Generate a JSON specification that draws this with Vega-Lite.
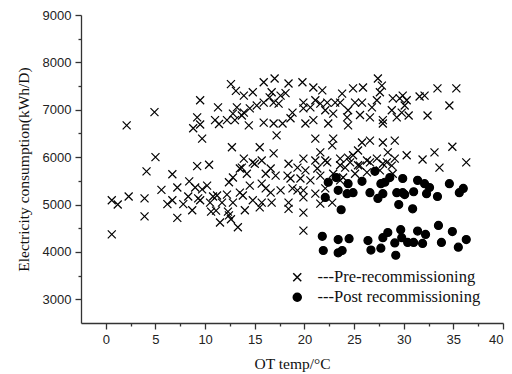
{
  "$schema": "https://vega.github.io/schema/vega-lite/v6.json",
  "autosize": {"type": "none"},
  "width": 422,
  "height": 308,
  "padding": {"left": 81, "top": 15, "right": 9, "bottom": 51},
  "background": "white",
  "config": {"view": {"stroke": null}},
  "data": {"values": [
    {"t":0.6,"e":4370,"s":"---Pre-recommissioning"},{"t":0.6,"e":5090,"s":"---Pre-recommissioning"},{"t":1.2,"e":5000,"s":"---Pre-recommissioning"},{"t":2.1,"e":6670,"s":"---Pre-recommissioning"},{"t":2.3,"e":5170,"s":"---Pre-recommissioning"},{"t":3.9,"e":5130,"s":"---Pre-recommissioning"},{"t":3.9,"e":4750,"s":"---Pre-recommissioning"},{"t":4.1,"e":5700,"s":"---Pre-recommissioning"},{"t":4.9,"e":6950,"s":"---Pre-recommissioning"},{"t":5.0,"e":6000,"s":"---Pre-recommissioning"},{"t":5.6,"e":5310,"s":"---Pre-recommissioning"},{"t":6.2,"e":5010,"s":"---Pre-recommissioning"},{"t":6.7,"e":5090,"s":"---Pre-recommissioning"},{"t":6.7,"e":5640,"s":"---Pre-recommissioning"},{"t":7.2,"e":4720,"s":"---Pre-recommissioning"},{"t":7.2,"e":5360,"s":"---Pre-recommissioning"},{"t":7.8,"e":5010,"s":"---Pre-recommissioning"},{"t":8.3,"e":5170,"s":"---Pre-recommissioning"},{"t":8.7,"e":4880,"s":"---Pre-recommissioning"},{"t":8.4,"e":5490,"s":"---Pre-recommissioning"},{"t":8.8,"e":6610,"s":"---Pre-recommissioning"},{"t":9.0,"e":5360,"s":"---Pre-recommissioning"},{"t":9.3,"e":5130,"s":"---Pre-recommissioning"},{"t":9.2,"e":6840,"s":"---Pre-recommissioning"},{"t":9.5,"e":7200,"s":"---Pre-recommissioning"},{"t":9.5,"e":6690,"s":"---Pre-recommissioning"},{"t":9.7,"e":6390,"s":"---Pre-recommissioning"},{"t":9.2,"e":5810,"s":"---Pre-recommissioning"},{"t":9.5,"e":5090,"s":"---Pre-recommissioning"},{"t":9.7,"e":5320,"s":"---Pre-recommissioning"},{"t":10.4,"e":5840,"s":"---Pre-recommissioning"},{"t":10.2,"e":5400,"s":"---Pre-recommissioning"},{"t":10.5,"e":5040,"s":"---Pre-recommissioning"},{"t":10.6,"e":4850,"s":"---Pre-recommissioning"},{"t":10.8,"e":5170,"s":"---Pre-recommissioning"},{"t":11.2,"e":5190,"s":"---Pre-recommissioning"},{"t":11.1,"e":4870,"s":"---Pre-recommissioning"},{"t":11.5,"e":4620,"s":"---Pre-recommissioning"},{"t":12.2,"e":5210,"s":"---Pre-recommissioning"},{"t":12.3,"e":4850,"s":"---Pre-recommissioning"},{"t":12.4,"e":4770,"s":"---Pre-recommissioning"},{"t":12.6,"e":4690,"s":"---Pre-recommissioning"},{"t":12.8,"e":5040,"s":"---Pre-recommissioning"},{"t":13.3,"e":4520,"s":"---Pre-recommissioning"},{"t":14.0,"e":4880,"s":"---Pre-recommissioning"},{"t":13.5,"e":5250,"s":"---Pre-recommissioning"},{"t":13.8,"e":5190,"s":"---Pre-recommissioning"},{"t":11.7,"e":5040,"s":"---Pre-recommissioning"},
    {"t":11.3,"e":7050,"s":"---Pre-recommissioning"},{"t":11.0,"e":6780,"s":"---Pre-recommissioning"},{"t":11.4,"e":6700,"s":"---Pre-recommissioning"},{"t":12.2,"e":6780,"s":"---Pre-recommissioning"},{"t":12.6,"e":7540,"s":"---Pre-recommissioning"},{"t":13.1,"e":7400,"s":"---Pre-recommissioning"},{"t":13.9,"e":7300,"s":"---Pre-recommissioning"},{"t":13.0,"e":6780,"s":"---Pre-recommissioning"},{"t":13.2,"e":7050,"s":"---Pre-recommissioning"},{"t":12.8,"e":6920,"s":"---Pre-recommissioning"},{"t":13.7,"e":6880,"s":"---Pre-recommissioning"},{"t":13.9,"e":6940,"s":"---Pre-recommissioning"},{"t":14.4,"e":6670,"s":"---Pre-recommissioning"},{"t":14.5,"e":7030,"s":"---Pre-recommissioning"},{"t":14.8,"e":7370,"s":"---Pre-recommissioning"},{"t":15.2,"e":7090,"s":"---Pre-recommissioning"},{"t":15.9,"e":7150,"s":"---Pre-recommissioning"},{"t":15.9,"e":7580,"s":"---Pre-recommissioning"},{"t":15.9,"e":6730,"s":"---Pre-recommissioning"},{"t":16.5,"e":7260,"s":"---Pre-recommissioning"},{"t":16.7,"e":7370,"s":"---Pre-recommissioning"},{"t":16.9,"e":7150,"s":"---Pre-recommissioning"},{"t":17.0,"e":7660,"s":"---Pre-recommissioning"},{"t":17.4,"e":7130,"s":"---Pre-recommissioning"},{"t":17.6,"e":7300,"s":"---Pre-recommissioning"},{"t":18.1,"e":7350,"s":"---Pre-recommissioning"},{"t":18.4,"e":7555,"s":"---Pre-recommissioning"},{"t":16.9,"e":6710,"s":"---Pre-recommissioning"},{"t":17.8,"e":6710,"s":"---Pre-recommissioning"},{"t":18.8,"e":6940,"s":"---Pre-recommissioning"},{"t":18.6,"e":6820,"s":"---Pre-recommissioning"},{"t":17.2,"e":6460,"s":"---Pre-recommissioning"},{"t":12.7,"e":6210,"s":"---Pre-recommissioning"},{"t":15.5,"e":6210,"s":"---Pre-recommissioning"},{"t":16.9,"e":6080,"s":"---Pre-recommissioning"},{"t":13.9,"e":5970,"s":"---Pre-recommissioning"},{"t":14.8,"e":5890,"s":"---Pre-recommissioning"},{"t":15.7,"e":5930,"s":"---Pre-recommissioning"},{"t":18.4,"e":5860,"s":"---Pre-recommissioning"},{"t":13.5,"e":5760,"s":"---Pre-recommissioning"},{"t":19.3,"e":5780,"s":"---Pre-recommissioning"},
    {"t":13.7,"e":5780,"s":"---Pre-recommissioning"},{"t":15.0,"e":5860,"s":"---Pre-recommissioning"},{"t":16.6,"e":5760,"s":"---Pre-recommissioning"},{"t":14.2,"e":5650,"s":"---Pre-recommissioning"},{"t":12.8,"e":5570,"s":"---Pre-recommissioning"},{"t":12.4,"e":5470,"s":"---Pre-recommissioning"},{"t":16.1,"e":5650,"s":"---Pre-recommissioning"},{"t":17.1,"e":5610,"s":"---Pre-recommissioning"},{"t":18.3,"e":5610,"s":"---Pre-recommissioning"},{"t":18.6,"e":5550,"s":"---Pre-recommissioning"},{"t":14.5,"e":5400,"s":"---Pre-recommissioning"},{"t":15.7,"e":5440,"s":"---Pre-recommissioning"},{"t":16.1,"e":5340,"s":"---Pre-recommissioning"},{"t":16.6,"e":5250,"s":"---Pre-recommissioning"},{"t":17.6,"e":5300,"s":"---Pre-recommissioning"},{"t":18.8,"e":5340,"s":"---Pre-recommissioning"},{"t":19.3,"e":5300,"s":"---Pre-recommissioning"},{"t":14.8,"e":5090,"s":"---Pre-recommissioning"},{"t":15.7,"e":5040,"s":"---Pre-recommissioning"},{"t":16.7,"e":5040,"s":"---Pre-recommissioning"},{"t":18.4,"e":5040,"s":"---Pre-recommissioning"},{"t":18.4,"e":4910,"s":"---Pre-recommissioning"},{"t":15.5,"e":4940,"s":"---Pre-recommissioning"},
    {"t":20.1,"e":5720,"s":"---Pre-recommissioning"},{"t":21.3,"e":5760,"s":"---Pre-recommissioning"},{"t":22.3,"e":5890,"s":"---Pre-recommissioning"},{"t":19.6,"e":5550,"s":"---Pre-recommissioning"},{"t":20.6,"e":5510,"s":"---Pre-recommissioning"},{"t":21.6,"e":5610,"s":"---Pre-recommissioning"},{"t":22.1,"e":5340,"s":"---Pre-recommissioning"},{"t":19.9,"e":5300,"s":"---Pre-recommissioning"},{"t":21.1,"e":5230,"s":"---Pre-recommissioning"},{"t":19.9,"e":5150,"s":"---Pre-recommissioning"},{"t":22.8,"e":5040,"s":"---Pre-recommissioning"},{"t":21.6,"e":5020,"s":"---Pre-recommissioning"},{"t":19.9,"e":4830,"s":"---Pre-recommissioning"},{"t":19.9,"e":4450,"s":"---Pre-recommissioning"},{"t":24.6,"e":5890,"s":"---Pre-recommissioning"},{"t":23.6,"e":5830,"s":"---Pre-recommissioning"},{"t":25.4,"e":5830,"s":"---Pre-recommissioning"},{"t":26.6,"e":5890,"s":"---Pre-recommissioning"},{"t":27.9,"e":5860,"s":"---Pre-recommissioning"},{"t":28.8,"e":5820,"s":"---Pre-recommissioning"},{"t":25.1,"e":5650,"s":"---Pre-recommissioning"},{"t":26.3,"e":5680,"s":"---Pre-recommissioning"},{"t":27.6,"e":5720,"s":"---Pre-recommissioning"},{"t":22.9,"e":5650,"s":"---Pre-recommissioning"},{"t":23.6,"e":5510,"s":"---Pre-recommissioning"},{"t":23.9,"e":5570,"s":"---Pre-recommissioning"},{"t":28.9,"e":5650,"s":"---Pre-recommissioning"},
    {"t":21.1,"e":6390,"s":"---Pre-recommissioning"},{"t":22.9,"e":6390,"s":"---Pre-recommissioning"},{"t":22.8,"e":6250,"s":"---Pre-recommissioning"},{"t":26.6,"e":6350,"s":"---Pre-recommissioning"},{"t":27.9,"e":6310,"s":"---Pre-recommissioning"},{"t":25.8,"e":6310,"s":"---Pre-recommissioning"},{"t":29.1,"e":6350,"s":"---Pre-recommissioning"},{"t":25.4,"e":6140,"s":"---Pre-recommissioning"},{"t":24.9,"e":6040,"s":"---Pre-recommissioning"},{"t":28.4,"e":6100,"s":"---Pre-recommissioning"},{"t":21.6,"e":6100,"s":"---Pre-recommissioning"},{"t":19.9,"e":5970,"s":"---Pre-recommissioning"},{"t":21.1,"e":5930,"s":"---Pre-recommissioning"},{"t":22.1,"e":5930,"s":"---Pre-recommissioning"},{"t":23.6,"e":5970,"s":"---Pre-recommissioning"},{"t":24.4,"e":5990,"s":"---Pre-recommissioning"},{"t":26.3,"e":5930,"s":"---Pre-recommissioning"},{"t":27.3,"e":5970,"s":"---Pre-recommissioning"},{"t":28.3,"e":5890,"s":"---Pre-recommissioning"},{"t":29.1,"e":5970,"s":"---Pre-recommissioning"},{"t":24.1,"e":5780,"s":"---Pre-recommissioning"},{"t":25.6,"e":5820,"s":"---Pre-recommissioning"},
    {"t":27.4,"e":7660,"s":"---Pre-recommissioning"},{"t":27.8,"e":7510,"s":"---Pre-recommissioning"},{"t":25.9,"e":7470,"s":"---Pre-recommissioning"},{"t":24.9,"e":7450,"s":"---Pre-recommissioning"},{"t":23.8,"e":7340,"s":"---Pre-recommissioning"},{"t":20.9,"e":7470,"s":"---Pre-recommissioning"},{"t":19.8,"e":7580,"s":"---Pre-recommissioning"},{"t":21.8,"e":7410,"s":"---Pre-recommissioning"},{"t":27.6,"e":7370,"s":"---Pre-recommissioning"},{"t":28.9,"e":7240,"s":"---Pre-recommissioning"},{"t":19.9,"e":7150,"s":"---Pre-recommissioning"},{"t":21.1,"e":7200,"s":"---Pre-recommissioning"},{"t":21.6,"e":7130,"s":"---Pre-recommissioning"},{"t":22.3,"e":7150,"s":"---Pre-recommissioning"},{"t":23.1,"e":7150,"s":"---Pre-recommissioning"},{"t":23.6,"e":7150,"s":"---Pre-recommissioning"},{"t":25.1,"e":7150,"s":"---Pre-recommissioning"},{"t":25.8,"e":7150,"s":"---Pre-recommissioning"},{"t":27.3,"e":7200,"s":"---Pre-recommissioning"},{"t":26.8,"e":7050,"s":"---Pre-recommissioning"},{"t":19.9,"e":7030,"s":"---Pre-recommissioning"},{"t":20.6,"e":7050,"s":"---Pre-recommissioning"},{"t":22.1,"e":6990,"s":"---Pre-recommissioning"},{"t":22.9,"e":6920,"s":"---Pre-recommissioning"},{"t":24.4,"e":6990,"s":"---Pre-recommissioning"},{"t":24.3,"e":6840,"s":"---Pre-recommissioning"},{"t":25.6,"e":6890,"s":"---Pre-recommissioning"},{"t":26.6,"e":6840,"s":"---Pre-recommissioning"},{"t":27.9,"e":6780,"s":"---Pre-recommissioning"},{"t":28.8,"e":6990,"s":"---Pre-recommissioning"},{"t":29.3,"e":6840,"s":"---Pre-recommissioning"},{"t":20.1,"e":6710,"s":"---Pre-recommissioning"},{"t":20.9,"e":6780,"s":"---Pre-recommissioning"},{"t":22.4,"e":6710,"s":"---Pre-recommissioning"},{"t":24.4,"e":6670,"s":"---Pre-recommissioning"},{"t":27.9,"e":6710,"s":"---Pre-recommissioning"},
    {"t":29.9,"e":7300,"s":"---Pre-recommissioning"},{"t":29.6,"e":7240,"s":"---Pre-recommissioning"},{"t":30.3,"e":7200,"s":"---Pre-recommissioning"},{"t":30.1,"e":7090,"s":"---Pre-recommissioning"},{"t":29.8,"e":6940,"s":"---Pre-recommissioning"},{"t":30.5,"e":6880,"s":"---Pre-recommissioning"},{"t":31.6,"e":7280,"s":"---Pre-recommissioning"},{"t":32.1,"e":7300,"s":"---Pre-recommissioning"},{"t":33.4,"e":7450,"s":"---Pre-recommissioning"},{"t":35.3,"e":7450,"s":"---Pre-recommissioning"},{"t":34.6,"e":7090,"s":"---Pre-recommissioning"},{"t":32.4,"e":6880,"s":"---Pre-recommissioning"},{"t":30.3,"e":6040,"s":"---Pre-recommissioning"},{"t":31.9,"e":5950,"s":"---Pre-recommissioning"},{"t":33.1,"e":6100,"s":"---Pre-recommissioning"},{"t":34.9,"e":6220,"s":"---Pre-recommissioning"},{"t":36.3,"e":5890,"s":"---Pre-recommissioning"},{"t":33.6,"e":5780,"s":"---Pre-recommissioning"},
    {"t":22.4,"e":5470,"s":"---Post recommissioning"},{"t":23.2,"e":5570,"s":"---Post recommissioning"},{"t":24.4,"e":5440,"s":"---Post recommissioning"},{"t":25.8,"e":5490,"s":"---Post recommissioning"},{"t":27.1,"e":5700,"s":"---Post recommissioning"},{"t":27.7,"e":5440,"s":"---Post recommissioning"},{"t":28.1,"e":5470,"s":"---Post recommissioning"},{"t":28.6,"e":5570,"s":"---Post recommissioning"},{"t":29.9,"e":5550,"s":"---Post recommissioning"},{"t":31.4,"e":5510,"s":"---Post recommissioning"},{"t":32.1,"e":5440,"s":"---Post recommissioning"},{"t":32.6,"e":5360,"s":"---Post recommissioning"},{"t":34.6,"e":5440,"s":"---Post recommissioning"},{"t":36.0,"e":5340,"s":"---Post recommissioning"},{"t":35.6,"e":5250,"s":"---Post recommissioning"},{"t":22.1,"e":5150,"s":"---Post recommissioning"},{"t":23.4,"e":5300,"s":"---Post recommissioning"},{"t":23.7,"e":4890,"s":"---Post recommissioning"},{"t":24.3,"e":5230,"s":"---Post recommissioning"},{"t":24.9,"e":5250,"s":"---Post recommissioning"},{"t":26.6,"e":5250,"s":"---Post recommissioning"},{"t":27.4,"e":5130,"s":"---Post recommissioning"},{"t":27.9,"e":5230,"s":"---Post recommissioning"},{"t":29.3,"e":5250,"s":"---Post recommissioning"},{"t":29.5,"e":5000,"s":"---Post recommissioning"},{"t":29.9,"e":5250,"s":"---Post recommissioning"},{"t":30.1,"e":5210,"s":"---Post recommissioning"},{"t":31.0,"e":5270,"s":"---Post recommissioning"},{"t":30.9,"e":4910,"s":"---Post recommissioning"},{"t":32.3,"e":5230,"s":"---Post recommissioning"},{"t":33.4,"e":5170,"s":"---Post recommissioning"},
    {"t":21.8,"e":4330,"s":"---Post recommissioning"},{"t":21.9,"e":4030,"s":"---Post recommissioning"},{"t":23.4,"e":4260,"s":"---Post recommissioning"},{"t":24.5,"e":4280,"s":"---Post recommissioning"},{"t":23.4,"e":3980,"s":"---Post recommissioning"},{"t":23.8,"e":4030,"s":"---Post recommissioning"},{"t":26.4,"e":4240,"s":"---Post recommissioning"},{"t":26.7,"e":4040,"s":"---Post recommissioning"},{"t":27.7,"e":4080,"s":"---Post recommissioning"},{"t":27.9,"e":4300,"s":"---Post recommissioning"},{"t":28.4,"e":4410,"s":"---Post recommissioning"},{"t":29.1,"e":4190,"s":"---Post recommissioning"},{"t":29.2,"e":3930,"s":"---Post recommissioning"},{"t":29.7,"e":4470,"s":"---Post recommissioning"},{"t":29.8,"e":4300,"s":"---Post recommissioning"},{"t":30.4,"e":4200,"s":"---Post recommissioning"},{"t":31.0,"e":4200,"s":"---Post recommissioning"},{"t":31.4,"e":4440,"s":"---Post recommissioning"},{"t":31.9,"e":4180,"s":"---Post recommissioning"},{"t":32.2,"e":4370,"s":"---Post recommissioning"},{"t":33.5,"e":4560,"s":"---Post recommissioning"},{"t":33.8,"e":4200,"s":"---Post recommissioning"},{"t":34.9,"e":4430,"s":"---Post recommissioning"},{"t":35.5,"e":4100,"s":"---Post recommissioning"},{"t":36.3,"e":4260,"s":"---Post recommissioning"}
  ]},
  "mark": {"type": "point", "filled": true, "color": "black", "stroke": "black", "strokeWidth": 1.2, "opacity": 1, "size": 64},
  "encoding": {
    "x": {"field": "t", "type": "quantitative",
      "scale": {"domain": [-2.5, 40], "nice": false, "zero": false},
      "axis": {"title": "OT temp/°C", "values": [0,2.5,5,7.5,10,12.5,15,17.5,20,22.5,25,27.5,30,32.5,35,37.5,40],
        "labelExpr": "datum.value % 5 === 0 ? datum.label : ''",
        "tickSize": {"condition": {"test": "datum.value % 5 !== 0", "value": 3}, "value": 6},
        "grid": false, "domainColor": "#333", "domainWidth": 1.3, "tickColor": "#333", "tickWidth": 1.3,
        "labelFont": "Liberation Sans", "labelFontSize": 13, "labelColor": "#222", "labelPadding": 4,
        "titleFont": "Liberation Serif", "titleFontSize": 15.5, "titleFontWeight": "normal", "titleColor": "#111", "titlePadding": 10}},
    "y": {"field": "e", "type": "quantitative",
      "scale": {"domain": [2500, 9000], "nice": false, "zero": false},
      "axis": {"title": "Electricity consumption(kWh/D)", "values": [3000,3500,4000,4500,5000,5500,6000,6500,7000,7500,8000,8500,9000],
        "labelExpr": "datum.value % 1000 === 0 ? datum.value : ''",
        "tickSize": {"condition": {"test": "datum.value % 1000 !== 0", "value": 3}, "value": 6},
        "grid": false, "domainColor": "#333", "domainWidth": 1.3, "tickColor": "#333", "tickWidth": 1.3,
        "labelFont": "Liberation Sans", "labelFontSize": 13, "labelColor": "#222", "labelPadding": 4,
        "titleFont": "Liberation Serif", "titleFontSize": 15.5, "titleFontWeight": "normal", "titleColor": "#111", "titlePadding": 11}},
    "shape": {"field": "s", "type": "nominal",
      "scale": {"domain": ["---Pre-recommissioning", "---Post recommissioning"], "range": ["M-1,-1L1,1M1,-1L-1,1", "circle"]},
      "legend": {"title": null, "orient": "none", "legendX": 208, "legendY": 254,
        "labelFont": "Liberation Serif", "labelFontSize": 16.5, "labelColor": "#111", "labelOffset": 12, "labelLimit": 400,
        "symbolSize": 64, "rowPadding": 3,
        "encode": {"symbols": {"update": {"fill": {"value": "black"}, "stroke": {"value": "black"}, "strokeWidth": {"value": 1.2}, "opacity": {"value": 1}}}}}}
  }
}
